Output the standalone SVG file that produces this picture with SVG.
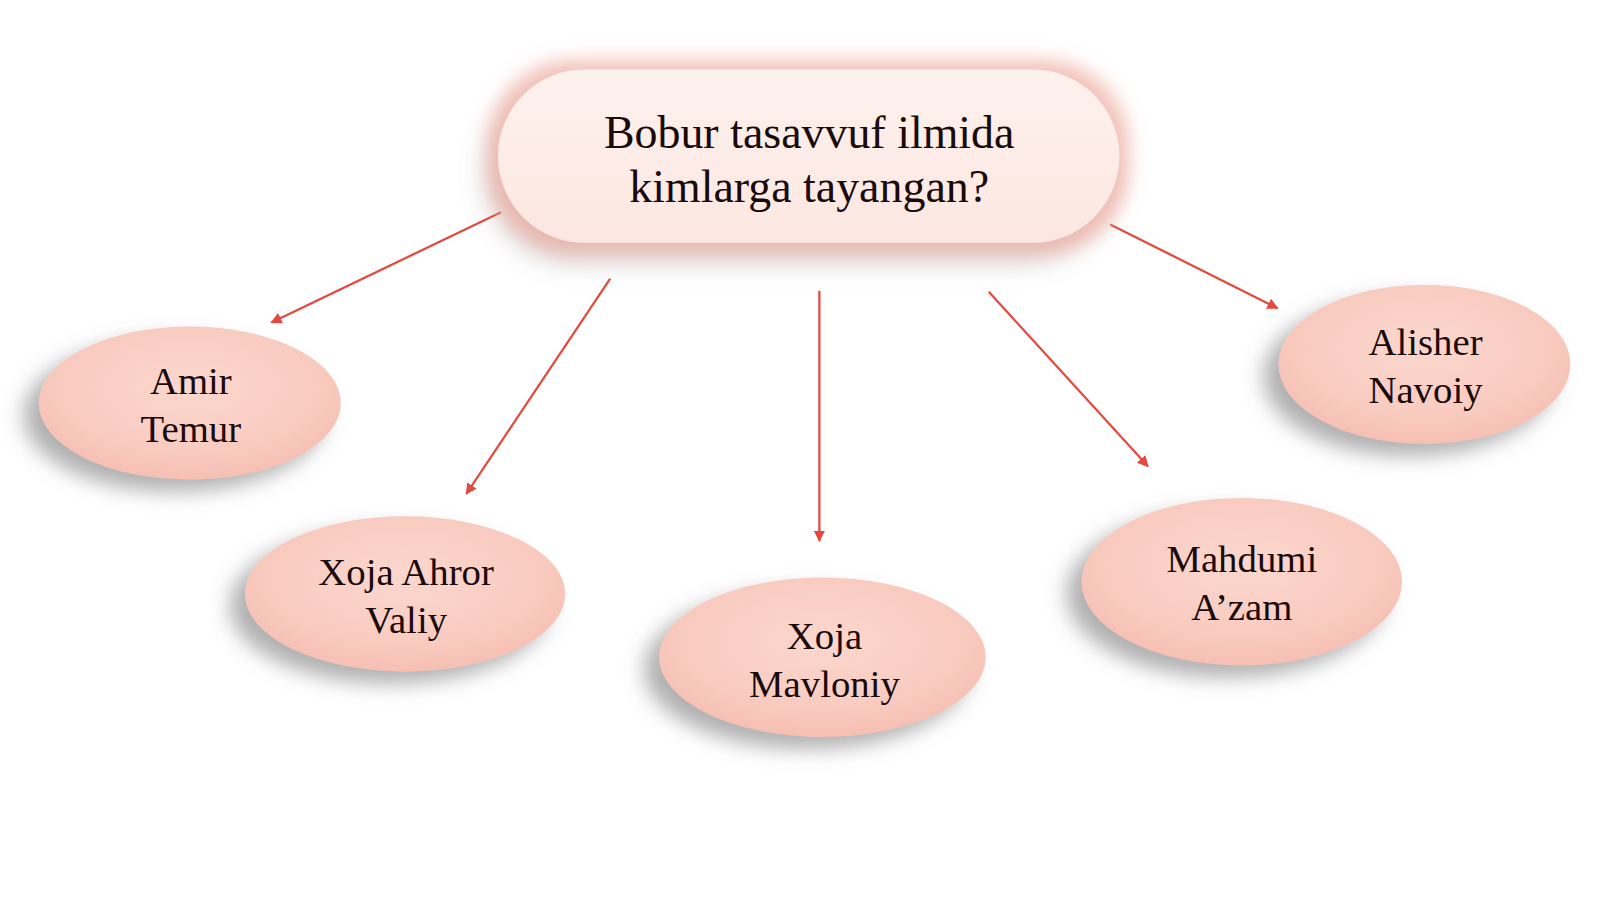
<svg xmlns="http://www.w3.org/2000/svg" width="1600" height="899" viewBox="0 0 1600 899">
<defs>
<style>
.lbl{font-family:"Liberation Serif","Times New Roman",serif;font-size:38px;fill:#1a0a0a;text-anchor:middle}
.ttl{font-family:"Liberation Serif","Times New Roman",serif;font-size:45px;fill:#1a0a0a;text-anchor:middle}
.con{stroke:#e3493f;stroke-width:2.2;fill:none;marker-end:url(#arr)}
.oval{fill:url(#og);filter:url(#sh)}
</style>
<radialGradient id="og" cx="50%" cy="40%" r="60%">
<stop offset="0" stop-color="#fbd7ce"/>
<stop offset="0.7" stop-color="#f9cbc0"/>
<stop offset="1" stop-color="#f6bfb3"/>
</radialGradient>
<linearGradient id="pg" x1="0" y1="0" x2="0" y2="1">
<stop offset="0" stop-color="#fdf1ed"/>
<stop offset="1" stop-color="#fce7e1"/>
</linearGradient>
<filter id="sh" x="-30%" y="-30%" width="160%" height="170%">
<feDropShadow dx="-15" dy="12" stdDeviation="10" flood-color="#707070" flood-opacity="0.55"/>
</filter>
<filter id="glow" x="-20%" y="-40%" width="140%" height="190%">
<feGaussianBlur in="SourceAlpha" stdDeviation="14" result="b"/>
<feOffset in="b" dx="-10" dy="16" result="bo"/>
<feFlood flood-color="#8a8080" flood-opacity="0.45"/>
<feComposite in2="bo" operator="in" result="gs"/>
<feMorphology in="SourceAlpha" operator="dilate" radius="10" result="d"/>
<feGaussianBlur in="d" stdDeviation="9" result="db"/>
<feFlood flood-color="#f0b2a6" flood-opacity="0.75"/>
<feComposite in2="db" operator="in" result="pk"/>
<feMerge><feMergeNode in="gs"/><feMergeNode in="pk"/><feMergeNode in="SourceGraphic"/></feMerge>
</filter>
<marker id="arr" viewBox="0 0 10 10" refX="9" refY="5" markerWidth="5" markerHeight="5" orient="auto" markerUnits="strokeWidth">
<path d="M0,0 L10,5 L0,10 z" fill="#e3493f"/>
</marker>
</defs>
<rect width="1600" height="899" fill="#ffffff"/>
<g transform="scale(1.0204)">
<g id="connectors">
<line class="con" x1="491" y1="208" x2="266" y2="316"/>
<line class="con" x1="598" y1="273" x2="457" y2="484"/>
<line class="con" x1="803" y1="285" x2="803" y2="530"/>
<line class="con" x1="969" y1="286" x2="1125" y2="457"/>
<line class="con" x1="1088" y1="220" x2="1252" y2="302"/>
</g>
<g id="title">
<rect x="488" y="68" width="609" height="170" rx="85" ry="85" fill="url(#pg)" filter="url(#glow)"/>
<text class="ttl" x="793" y="145">Bobur tasavvuf ilmida</text>
<text class="ttl" x="793" y="198">kimlarga tayangan?</text>
</g>
<g id="amir-temur">
<ellipse class="oval" cx="186" cy="395" rx="148" ry="75"/>
<text class="lbl" x="187" y="386">Amir</text>
<text class="lbl" x="187" y="433">Temur</text>
</g>
<g id="xoja-ahror-valiy">
<ellipse class="oval" cx="397" cy="582" rx="157" ry="76"/>
<text class="lbl" x="398" y="573">Xoja Ahror</text>
<text class="lbl" x="398" y="620">Valiy</text>
</g>
<g id="xoja-mavloniy">
<ellipse class="oval" cx="806" cy="644" rx="160" ry="78"/>
<text class="lbl" x="808" y="636">Xoja</text>
<text class="lbl" x="808" y="683">Mavloniy</text>
</g>
<g id="mahdumi-azam">
<ellipse class="oval" cx="1217" cy="570" rx="157" ry="82"/>
<text class="lbl" x="1217" y="561">Mahdumi</text>
<text class="lbl" x="1217" y="608">A’zam</text>
</g>
<g id="alisher-navoiy">
<ellipse class="oval" cx="1396" cy="357" rx="143" ry="78"/>
<text class="lbl" x="1397" y="348">Alisher</text>
<text class="lbl" x="1397" y="395">Navoiy</text>
</g>
</g>
</svg>
